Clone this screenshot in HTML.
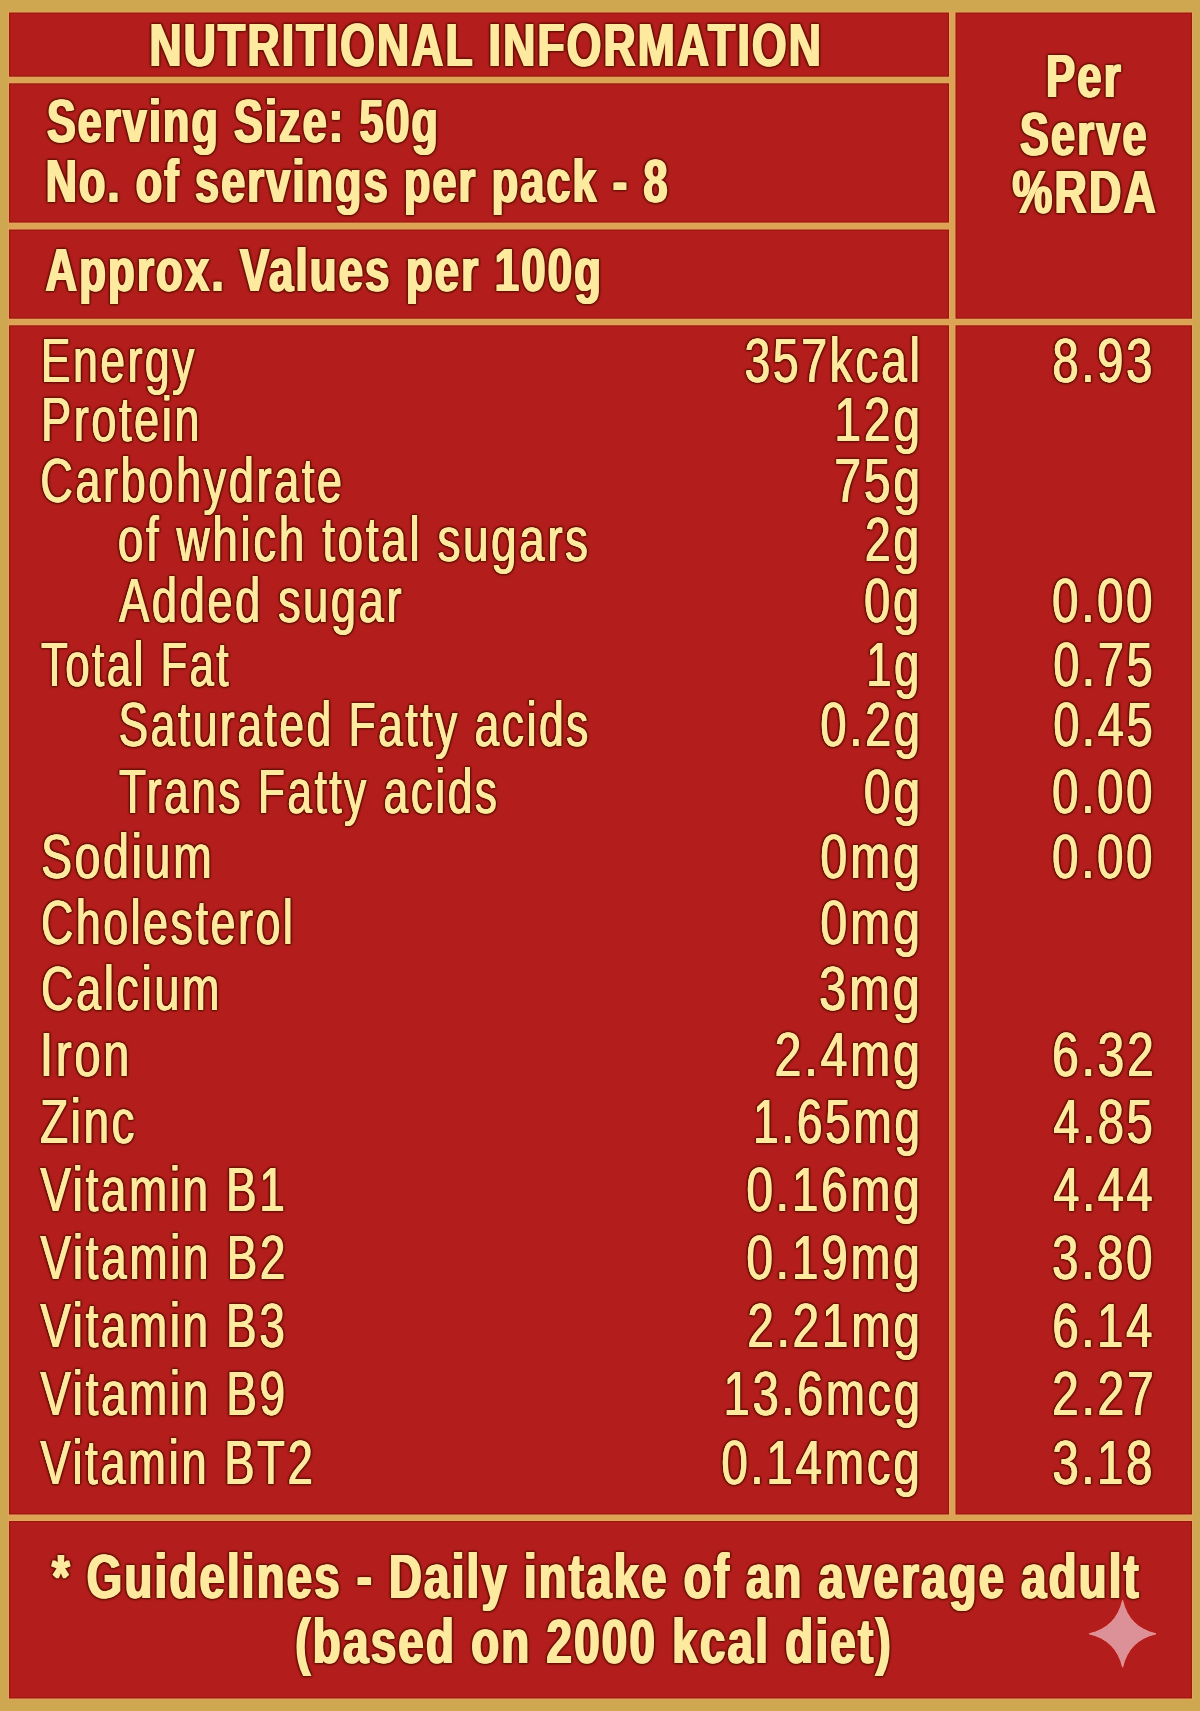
<!DOCTYPE html>
<html lang="en"><head><meta charset="utf-8"><title>Nutritional Information</title>
<style>
html,body{margin:0;padding:0;background:#cfa750}
svg{display:block}
text{font-family:"Liberation Sans",sans-serif;fill:#fdea9f;letter-spacing:0.06em}
.b text{font-weight:700;letter-spacing:0.05em}
</style></head><body>
<svg width="1200" height="1711" viewBox="0 0 1200 1711">

<rect width="1200" height="1711" fill="#cfa750"/>
<rect x="8" y="76" width="942" height="8" fill="#dba455"/>
<rect x="8" y="222" width="942" height="8" fill="#dba455"/>
<rect x="8" y="318" width="1185" height="8" fill="#dba455"/>
<rect x="8" y="1514" width="1185" height="8" fill="#dba455"/>
<rect x="948.5" y="11.5" width="7.5" height="1503.5" fill="#dba455"/>
<rect x="8.1" y="11.6" width="941.8" height="66" fill="#eca25f"/>
<rect x="8.1" y="82.4" width="941.8" height="141.1" fill="#eca25f"/>
<rect x="8.1" y="228.6" width="941.8" height="91" fill="#eca25f"/>
<rect x="954.6" y="11.6" width="238.3" height="308" fill="#eca25f"/>
<rect x="8.1" y="324.4" width="941.8" height="1191" fill="#eca25f"/>
<rect x="954.6" y="324.4" width="238.3" height="1191" fill="#eca25f"/>
<rect x="8.1" y="1520.1" width="1184.8" height="179.3" fill="#eca25f"/>
<rect x="9" y="12.5" width="940" height="64.2" fill="#971a0c"/>
<rect x="9" y="83.3" width="940" height="139.3" fill="#971a0c"/>
<rect x="9" y="229.5" width="940" height="89.2" fill="#971a0c"/>
<rect x="955.5" y="12.5" width="236.5" height="306.2" fill="#971a0c"/>
<rect x="9" y="325.3" width="940" height="1189.2" fill="#971a0c"/>
<rect x="955.5" y="325.3" width="236.5" height="1189.2" fill="#971a0c"/>
<rect x="9" y="1521" width="1183" height="177.5" fill="#971a0c"/>
<rect x="10.2" y="13.7" width="937.6" height="61.8" fill="#b31e1d"/>
<rect x="10.2" y="84.5" width="937.6" height="136.9" fill="#b31e1d"/>
<rect x="10.2" y="230.7" width="937.6" height="86.8" fill="#b31e1d"/>
<rect x="956.7" y="13.7" width="234.1" height="303.8" fill="#b31e1d"/>
<rect x="10.2" y="326.5" width="937.6" height="1186.8" fill="#b31e1d"/>
<rect x="956.7" y="326.5" width="234.1" height="1186.8" fill="#b31e1d"/>
<rect x="10.2" y="1522.2" width="1180.6" height="175.1" fill="#b31e1d"/>
<defs><filter id="fb" x="0" y="0" width="1200" height="1711" filterUnits="userSpaceOnUse" color-interpolation-filters="sRGB">
<feOffset in="SourceGraphic" dx="0.65" dy="0" result="a"/>
<feOffset in="SourceGraphic" dx="-0.65" dy="0" result="b"/>
<feMerge result="thick"><feMergeNode in="a"/><feMergeNode in="b"/><feMergeNode in="SourceGraphic"/></feMerge>
<feGaussianBlur in="thick" stdDeviation="1.4" result="bl"/>
<feColorMatrix in="bl" type="matrix" values="0 0 0 0 0.44  0 0 0 0 0.06  0 0 0 0 0.01  0 0 0 3.6 0" result="halo"/>
<feMerge><feMergeNode in="halo"/><feMergeNode in="thick"/></feMerge>
</filter><filter id="fr" x="0" y="0" width="1200" height="1711" filterUnits="userSpaceOnUse" color-interpolation-filters="sRGB">
<feOffset in="SourceGraphic" dx="0.5" dy="0" result="a"/>
<feOffset in="SourceGraphic" dx="-0.5" dy="0" result="b"/>
<feMerge result="thick"><feMergeNode in="a"/><feMergeNode in="b"/><feMergeNode in="SourceGraphic"/></feMerge>
<feGaussianBlur in="thick" stdDeviation="1.4" result="bl"/>
<feColorMatrix in="bl" type="matrix" values="0 0 0 0 0.44  0 0 0 0 0.06  0 0 0 0 0.01  0 0 0 3.6 0" result="halo"/>
<feMerge><feMergeNode in="halo"/><feMergeNode in="thick"/></feMerge>
</filter></defs>
<g class="b" filter="url(#fb)">
<text x="149.48" y="66.00" font-size="61.4" textLength="673.58" lengthAdjust="spacingAndGlyphs">NUTRITIONAL INFORMATION</text>
<text x="46.98" y="141.50" font-size="60.3" textLength="393.06" lengthAdjust="spacingAndGlyphs">Serving Size: 50g</text>
<text x="45.68" y="201.70" font-size="60.3" textLength="624.03" lengthAdjust="spacingAndGlyphs">No. of servings per pack - 8</text>
<text x="45.49" y="291.00" font-size="60.3" textLength="557.53" lengthAdjust="spacingAndGlyphs">Approx. Values per 100g</text>
<text x="1045.88" y="96.70" font-size="60.3" textLength="76.96" lengthAdjust="spacingAndGlyphs">Per</text>
<text x="1019.97" y="154.70" font-size="60.3" textLength="128.80" lengthAdjust="spacingAndGlyphs">Serve</text>
<text x="1012.58" y="212.50" font-size="60.3" textLength="145.48" lengthAdjust="spacingAndGlyphs">%RDA</text>
<text x="52.00" y="1598.30" font-size="62.3" textLength="1088.99" lengthAdjust="spacingAndGlyphs">* Guidelines - Daily intake of an average adult</text>
<text x="295.28" y="1662.80" font-size="62.3" textLength="597.76" lengthAdjust="spacingAndGlyphs">(based on 2000 kcal diet)</text>
</g>
<g filter="url(#fr)">
<text x="40.47" y="381.50" font-size="62.2" textLength="156.11" lengthAdjust="spacingAndGlyphs">Energy</text>
<text x="744.15" y="381.50" font-size="62.2" textLength="178.04" lengthAdjust="spacingAndGlyphs">357kcal</text>
<text x="1051.88" y="381.50" font-size="62.2" textLength="103.03" lengthAdjust="spacingAndGlyphs">8.93</text>
<text x="40.86" y="440.80" font-size="62.2" textLength="160.89" lengthAdjust="spacingAndGlyphs">Protein</text>
<text x="834.09" y="440.80" font-size="62.2" textLength="88.40" lengthAdjust="spacingAndGlyphs">12g</text>
<text x="39.96" y="501.50" font-size="62.2" textLength="304.31" lengthAdjust="spacingAndGlyphs">Carbohydrate</text>
<text x="834.07" y="501.50" font-size="62.2" textLength="88.37" lengthAdjust="spacingAndGlyphs">75g</text>
<text x="117.48" y="561.30" font-size="62.2" textLength="472.86" lengthAdjust="spacingAndGlyphs">of which total sugars</text>
<text x="864.47" y="561.30" font-size="62.2" textLength="57.04" lengthAdjust="spacingAndGlyphs">2g</text>
<text x="118.70" y="622.00" font-size="62.2" textLength="285.13" lengthAdjust="spacingAndGlyphs">Added sugar</text>
<text x="863.87" y="622.00" font-size="62.2" textLength="57.57" lengthAdjust="spacingAndGlyphs">0g</text>
<text x="1051.85" y="622.00" font-size="62.2" textLength="103.07" lengthAdjust="spacingAndGlyphs">0.00</text>
<text x="40.68" y="686.30" font-size="62.2" textLength="190.05" lengthAdjust="spacingAndGlyphs">Total Fat</text>
<text x="866.05" y="686.30" font-size="62.2" textLength="55.65" lengthAdjust="spacingAndGlyphs">1g</text>
<text x="1052.88" y="686.30" font-size="62.2" textLength="102.00" lengthAdjust="spacingAndGlyphs">0.75</text>
<text x="118.27" y="746.30" font-size="62.2" textLength="472.29" lengthAdjust="spacingAndGlyphs">Saturated Fatty acids</text>
<text x="820.10" y="746.30" font-size="62.2" textLength="102.22" lengthAdjust="spacingAndGlyphs">0.2g</text>
<text x="1052.88" y="746.30" font-size="62.2" textLength="102.00" lengthAdjust="spacingAndGlyphs">0.45</text>
<text x="118.69" y="812.50" font-size="62.2" textLength="380.53" lengthAdjust="spacingAndGlyphs">Trans Fatty acids</text>
<text x="863.46" y="812.50" font-size="62.2" textLength="59.16" lengthAdjust="spacingAndGlyphs">0g</text>
<text x="1051.85" y="812.50" font-size="62.2" textLength="103.07" lengthAdjust="spacingAndGlyphs">0.00</text>
<text x="40.63" y="878.30" font-size="62.2" textLength="173.32" lengthAdjust="spacingAndGlyphs">Sodium</text>
<text x="820.11" y="878.30" font-size="62.2" textLength="102.28" lengthAdjust="spacingAndGlyphs">0mg</text>
<text x="1051.85" y="878.30" font-size="62.2" textLength="103.07" lengthAdjust="spacingAndGlyphs">0.00</text>
<text x="40.65" y="943.70" font-size="62.2" textLength="254.49" lengthAdjust="spacingAndGlyphs">Cholesterol</text>
<text x="820.11" y="943.70" font-size="62.2" textLength="102.28" lengthAdjust="spacingAndGlyphs">0mg</text>
<text x="40.64" y="1010.00" font-size="62.2" textLength="181.01" lengthAdjust="spacingAndGlyphs">Calcium</text>
<text x="818.84" y="1010.00" font-size="62.2" textLength="103.57" lengthAdjust="spacingAndGlyphs">3mg</text>
<text x="39.53" y="1075.80" font-size="62.2" textLength="92.33" lengthAdjust="spacingAndGlyphs">Iron</text>
<text x="774.36" y="1075.80" font-size="62.2" textLength="147.92" lengthAdjust="spacingAndGlyphs">2.4mg</text>
<text x="1051.86" y="1075.80" font-size="62.2" textLength="104.17" lengthAdjust="spacingAndGlyphs">6.32</text>
<text x="39.64" y="1143.30" font-size="62.2" textLength="97.26" lengthAdjust="spacingAndGlyphs">Zinc</text>
<text x="752.84" y="1143.30" font-size="62.2" textLength="169.39" lengthAdjust="spacingAndGlyphs">1.65mg</text>
<text x="1052.95" y="1143.30" font-size="62.2" textLength="101.93" lengthAdjust="spacingAndGlyphs">4.85</text>
<text x="40.00" y="1210.80" font-size="63" textLength="247.09" lengthAdjust="spacingAndGlyphs">Vitamin B1</text>
<text x="745.91" y="1210.80" font-size="63" textLength="176.33" lengthAdjust="spacingAndGlyphs">0.16mg</text>
<text x="1052.95" y="1210.80" font-size="63" textLength="101.93" lengthAdjust="spacingAndGlyphs">4.44</text>
<text x="40.00" y="1278.70" font-size="63" textLength="247.60" lengthAdjust="spacingAndGlyphs">Vitamin B2</text>
<text x="745.91" y="1278.70" font-size="63" textLength="176.33" lengthAdjust="spacingAndGlyphs">0.19mg</text>
<text x="1051.86" y="1278.70" font-size="63" textLength="103.06" lengthAdjust="spacingAndGlyphs">3.80</text>
<text x="40.00" y="1346.70" font-size="63" textLength="246.99" lengthAdjust="spacingAndGlyphs">Vitamin B3</text>
<text x="746.91" y="1346.70" font-size="63" textLength="175.33" lengthAdjust="spacingAndGlyphs">2.21mg</text>
<text x="1051.88" y="1346.70" font-size="63" textLength="103.03" lengthAdjust="spacingAndGlyphs">6.14</text>
<text x="40.00" y="1415.00" font-size="63" textLength="247.38" lengthAdjust="spacingAndGlyphs">Vitamin B9</text>
<text x="723.34" y="1415.00" font-size="63" textLength="198.90" lengthAdjust="spacingAndGlyphs">13.6mcg</text>
<text x="1051.86" y="1415.00" font-size="63" textLength="104.17" lengthAdjust="spacingAndGlyphs">2.27</text>
<text x="40.00" y="1483.70" font-size="63" textLength="274.98" lengthAdjust="spacingAndGlyphs">Vitamin BT2</text>
<text x="720.93" y="1483.70" font-size="63" textLength="201.29" lengthAdjust="spacingAndGlyphs">0.14mcg</text>
<text x="1051.88" y="1483.70" font-size="63" textLength="103.03" lengthAdjust="spacingAndGlyphs">3.18</text>
</g>
<path fill="#dc9098" stroke="#ec9a96" stroke-width="0.9" d="M1122.6 1600.4 Q1128.95 1627.45 1156 1633.8 Q1128.95 1640.15 1122.6 1667.2 Q1116.25 1640.15 1089.2 1633.8 Q1116.25 1627.45 1122.6 1600.4Z"/>
</svg></body></html>
